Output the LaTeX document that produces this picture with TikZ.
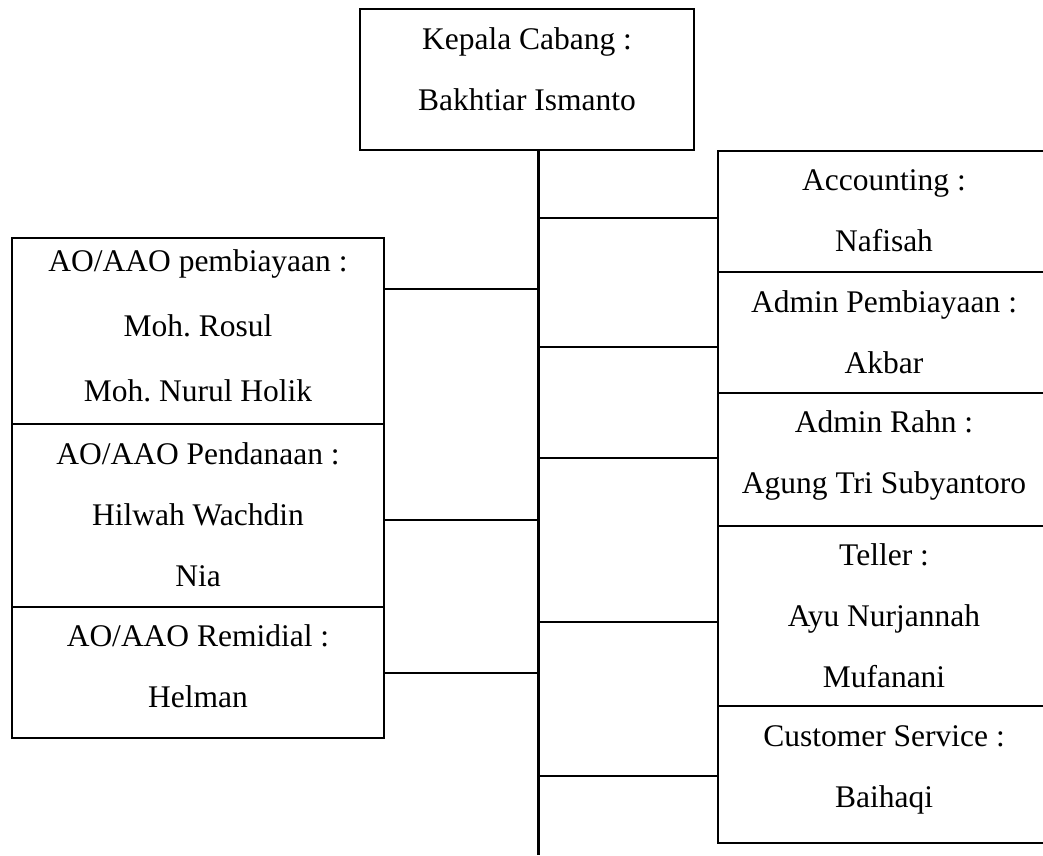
\documentclass[tikz,border=0pt]{standalone}
\usepackage{fontspec}
\setmainfont{Liberation Serif}
\begin{document}
\begin{tikzpicture}[x=1pt,y=-1pt]
\tikzstyle{every node}+=[inner sep=0pt]
\tikzstyle{jabatan}=[draw=black, line width=1.2pt, align=center, font=\fontsize{31.5}{61}\selectfont, text depth=1pt]
\tikzstyle{kanan}=[jabatan, minimum width=332pt]
\tikzstyle{kiri}=[jabatan, minimum width=372pt]
\tikzstyle{garis}=[black, line width=2pt]
\useasboundingbox (0,0) rectangle (1043,855);
\clip (0,0) rectangle (1043,855);
\node [jabatan, minimum width=334pt, minimum height=141pt, text depth=21pt] (kc) at (527,79.5) {Kepala Cabang :\\Bakhtiar Ismanto};
\node [kanan, minimum height=121pt] (acc) at (884,211.5) {Accounting :\\Nafisah};
\node [kanan, minimum height=121pt] (admp) at (884,332.5) {Admin Pembiayaan :\\Akbar};
\node [kanan, minimum height=133pt, text depth=14pt] (rahn) at (884,459.5) {Admin Rahn :\\Agung Tri Subyantoro};
\node [kanan, minimum height=180pt] (tel) at (884,616) {Teller :\\Ayu Nurjannah\\Mufanani};
\node [kanan, minimum height=137pt, text depth=16pt] (cs) at (884,774.5) {Customer Service :\\Baihaqi};
\node [kiri, minimum height=186pt, text depth=11pt, font=\fontsize{31.5}{65}\selectfont] (aop) at (198,331) {AO/AAO pembiayaan :\\Moh.\ Rosul\\Moh.\ Nurul Holik};
\node [kiri, minimum height=183pt] (aod) at (198,515.5) {AO/AAO Pendanaan :\\Hilwah Wachdin\\Nia};
\node [kiri, minimum height=131pt, text depth=12pt] (aor) at (198,672.5) {AO/AAO Remidial :\\Helman};
\coordinate (ujung) at (538,855);
% cabang kanan
\draw [garis] ([yshift=-6.5pt]acc.west) -- ([yshift=-6.5pt]acc.west -| ujung);
\draw [garis] ([yshift=-14.5pt]admp.west) -- ([yshift=-14.5pt]admp.west -| ujung);
\draw [garis] ([yshift=1.5pt]rahn.west) -- ([yshift=1.5pt]rahn.west -| ujung);
\draw [garis] ([yshift=-6pt]tel.west) -- ([yshift=-6pt]tel.west -| ujung);
\draw [garis] ([yshift=-1.5pt]cs.west) -- ([yshift=-1.5pt]cs.west -| ujung);
% cabang kiri
\draw [garis] ([yshift=42pt]aop.east) -- ([yshift=42pt]aop.east -| ujung);
\draw [garis] ([yshift=-4.5pt]aod.east) -- ([yshift=-4.5pt]aod.east -| ujung);
\draw [garis] (aor.east) -- (aor.east -| ujung);
% garis utama
\draw [black, line width=3pt] (kc.south -| ujung) -- (ujung);
\end{tikzpicture}
\end{document}
